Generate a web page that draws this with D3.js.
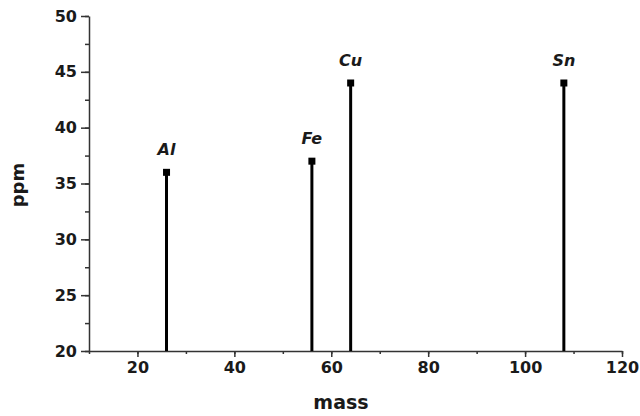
<!DOCTYPE html>
<html>
<head>
<meta charset="utf-8">
<script src="https://cdn.jsdelivr.net/npm/d3@7"></script>
<style>
  body { margin: 0; background: #fff; }
  svg text { font-family: "DejaVu Sans", "Liberation Sans", sans-serif; font-weight: bold; fill: #1a1a1a; }
  .axis path, .axis line { stroke: #333; stroke-width: 1.5; }
</style>
</head>
<body>
<svg id="chart" width="640" height="416"></svg>
<script>
// element lines
var elements = ["Al", "Fe", "Cu", "Sn"];
var masses = [26, 56, 64, 108];
var ppm = [36, 37, 44, 44];

var xTicks = [20, 40, 60, 80, 100, 120];
var yTicks = [20, 25, 30, 35, 40, 45, 50];

var svg = d3.select("#chart");
var margin = {top: 16, right: 18, bottom: 65, left: 89};
var width = 640 - margin.left - margin.right,
	height = 416 - margin.top - margin.bottom;

var x = d3.scaleLinear().domain([10, 120]).range([0, width]);
var y = d3.scaleLinear().domain([20, 50]).range([height, 0]);

var g = svg.append("g")
	.attr("transform", "translate(" + margin.left + "," + margin.top + ")");

// minor ticks first, then the major ones on top
g.append("g")
	.attr("class", "axis")
	.attr("transform", "translate(0," + height + ")")
	.call(d3.axisBottom(x).tickValues(d3.range(10, 121, 10)).tickSize(3).tickFormat(""))
	.select(".domain").remove();
g.append("g")
	.attr("class", "axis")
	.call(d3.axisLeft(y).tickValues(d3.range(20, 50.1, 2.5)).tickSize(4).tickFormat(""))
	.select(".domain").remove();

var xAxis = g.append("g")
	.attr("class", "axis")
	.attr("transform", "translate(0," + height + ")")
	.call(d3.axisBottom(x).tickValues(xTicks).tickSizeInner(6).tickSizeOuter(0).tickPadding(5));
xAxis.selectAll("text").style("font-size", "16px").attr("fill", "#1a1a1a");

var yAxis = g.append("g")
	.attr("class", "axis")
	.call(d3.axisLeft(y).tickValues(yTicks).tickSizeInner(8).tickSizeOuter(0).tickPadding(4));
yAxis.selectAll("text").style("font-size", "16px").attr("fill", "#1a1a1a");

// stems
elements.forEach(function(el, i) {
	g.append("line")
		.attr("x1", x(masses[i])).attr("x2", x(masses[i]))
		.attr("y1", y(20)).attr("y2", y(ppm[i]))
		.attr("stroke", "#000")
		.attr("stroke-width", 3);
	g.append("rect")
		.attr("x", x(masses[i]) - 3.5)
		.attr("y", y(ppm[i]) - 3.5)
		.attr("width", 7).attr("height", 7)
		.attr("fill", "#000");
	g.append("text")
		.attr("x", x(masses[i]))
		.attr("y", y(ppm[i]) - 17)
		.attr("text-anchor", "middle")
		.style("font-size", "16px")
		.style("font-style", "italic")
		.text(el);
});

// axis titles
svg.append("text")
	.attr("x", margin.left + x(62))
	.attr("y", 409)
	.attr("text-anchor", "middle")
	.style("font-size", "19px")
	.text("mass");
svg.append("text")
	.attr("transform", "translate(24,185) rotate(-90)")
	.attr("text-anchor", "middle")
	.style("font-size", "18px")
	.text("ppm");
</script>
</body>
</html>
